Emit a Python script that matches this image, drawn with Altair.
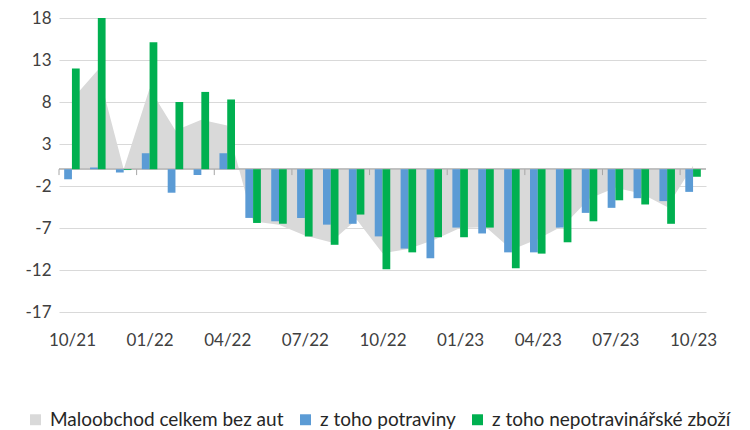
import json
import altair as alt
import pandas as pd

months = ["10/21", "11/21", "12/21", "01/22", "02/22", "03/22", "04/22", "05/22",
          "06/22", "07/22", "08/22", "09/22", "10/22", "11/22", "12/22", "01/23",
          "02/23", "03/23", "04/23", "05/23", "06/23", "07/23", "08/23", "09/23", "10/23"]

total = [8.3, 11.8, 0.0, 9.6, 4.6, 5.9, 5.2, -6.2, -6.6, -7.9, -8.7, -6.0, -10.0,
         -9.5, -8.4, -7.0, -6.9, -9.6, -8.3, -6.7, -3.5, -2.2, -2.9, -4.5, 0.4]
food = [-1.2, 0.2, -0.4, 1.9, -2.8, -0.7, 1.9, -5.8, -6.2, -5.8, -6.6, -6.5, -8.0,
        -9.45, -10.6, -6.95, -7.65, -9.9, -9.9, -6.95, -5.2, -4.6, -3.45, -3.8, -2.7]
nonfood = [12.0, 18.0, -0.1, 15.1, 8.0, 9.2, 8.3, -6.4, -6.5, -8.0, -9.0, -5.4, -11.9,
           -9.9, -8.1, -8.1, -6.95, -11.8, -10.05, -8.7, -6.2, -3.7, -4.2, -6.5, -0.9]

names = ["Maloobchod celkem bez aut", "z toho potraviny", "z toho nepotravinářské zboží"]
colors = ["#d9d9d9", "#5b9bd5", "#00b050"]
y_ticks = [18, 13, 8, 3, -2, -7, -12, -17]

n = len(months)
df = pd.DataFrame({"idx": list(range(n)), "month": months,
                   "total": total, "food": food, "nonfood": nonfood})
ticks_df = pd.DataFrame({"b": list(range(0, n, 3))})

x_scale = alt.Scale(domain=[0, n], nice=False, zero=False)
y_scale = alt.Scale(domain=[-17, 18], nice=False)
color_scale = alt.Scale(domain=names, range=colors)

x_axis = alt.Axis(values=[i + 0.5 for i in range(0, n, 3)],
                  labelExpr=f"{json.dumps(months)}[floor(datum.value)]",
                  grid=False, ticks=False, domain=False, labelPadding=20, title=None)
y_axis = alt.Axis(values=y_ticks, grid=True, gridColor="#d9d9d9", gridWidth=1,
                  domain=False, ticks=False, labelPadding=8, title=None,
                  labelExpr="'' + datum.value")

legend = alt.Legend(title=None, orient="none", legendX=-33, legendY=392,
                    direction="horizontal", symbolType="square", symbolSize=120,
                    symbolStrokeWidth=0, labelFont="Lato", labelFontSize=19,
                    labelColor="#262626", columnPadding=12, labelOffset=5,
                    labelLimit=400)

def col(name):
    return alt.Color("series:N", scale=color_scale, legend=legend)

base = alt.Chart(df)

area = base.transform_calculate(
    c="datum.idx + 0.5", series=json.dumps(names[0])
).mark_area(opacity=1, interpolate="linear").encode(
    x=alt.X("c:Q", scale=x_scale, axis=x_axis),
    y=alt.Y("total:Q", scale=y_scale, axis=y_axis),
    y2=alt.datum(0),
    color=col(names[0]),
)

zero_line = alt.Chart(ticks_df).mark_rule(color="#bfbfbf", strokeWidth=1).encode(
    x=alt.datum(0, type="quantitative", scale=x_scale, axis=x_axis),
    x2=alt.datum(n),
    y=alt.datum(0, type="quantitative", scale=y_scale, axis=y_axis),
)

tick_marks = alt.Chart(ticks_df).mark_rule(color="#a6a6a6", strokeWidth=1).encode(
    x=alt.X("b:Q", scale=x_scale, axis=x_axis),
    y=alt.datum(0, type="quantitative", scale=y_scale, axis=y_axis),
    y2=alt.datum(-0.7),
)

food_bars = base.transform_calculate(
    x0="datum.idx + 0.2", x1="datum.idx + 0.5", series=json.dumps(names[1])
).mark_bar().encode(
    x=alt.X("x0:Q", scale=x_scale, axis=x_axis),
    x2="x1:Q",
    y=alt.Y("food:Q", scale=y_scale, axis=y_axis),
    y2=alt.datum(0),
    color=col(names[1]),
)

nonfood_bars = base.transform_calculate(
    x0="datum.idx + 0.5", x1="datum.idx + 0.8", series=json.dumps(names[2])
).mark_bar().encode(
    x=alt.X("x0:Q", scale=x_scale, axis=x_axis),
    x2="x1:Q",
    y=alt.Y("nonfood:Q", scale=y_scale, axis=y_axis),
    y2=alt.datum(0),
    color=col(names[2]),
)

chart = alt.layer(area, zero_line, tick_marks, food_bars, nonfood_bars).properties(
    width=647, height=294,
    padding={"left": 16, "top": 1, "right": 5, "bottom": 2},
).configure_view(stroke=None).configure_axis(
    labelFont="Lato", labelFontSize=17, labelColor="#404040"
)

chart.save("out.html", embed_options={"renderer": "svg", "actions": False})
